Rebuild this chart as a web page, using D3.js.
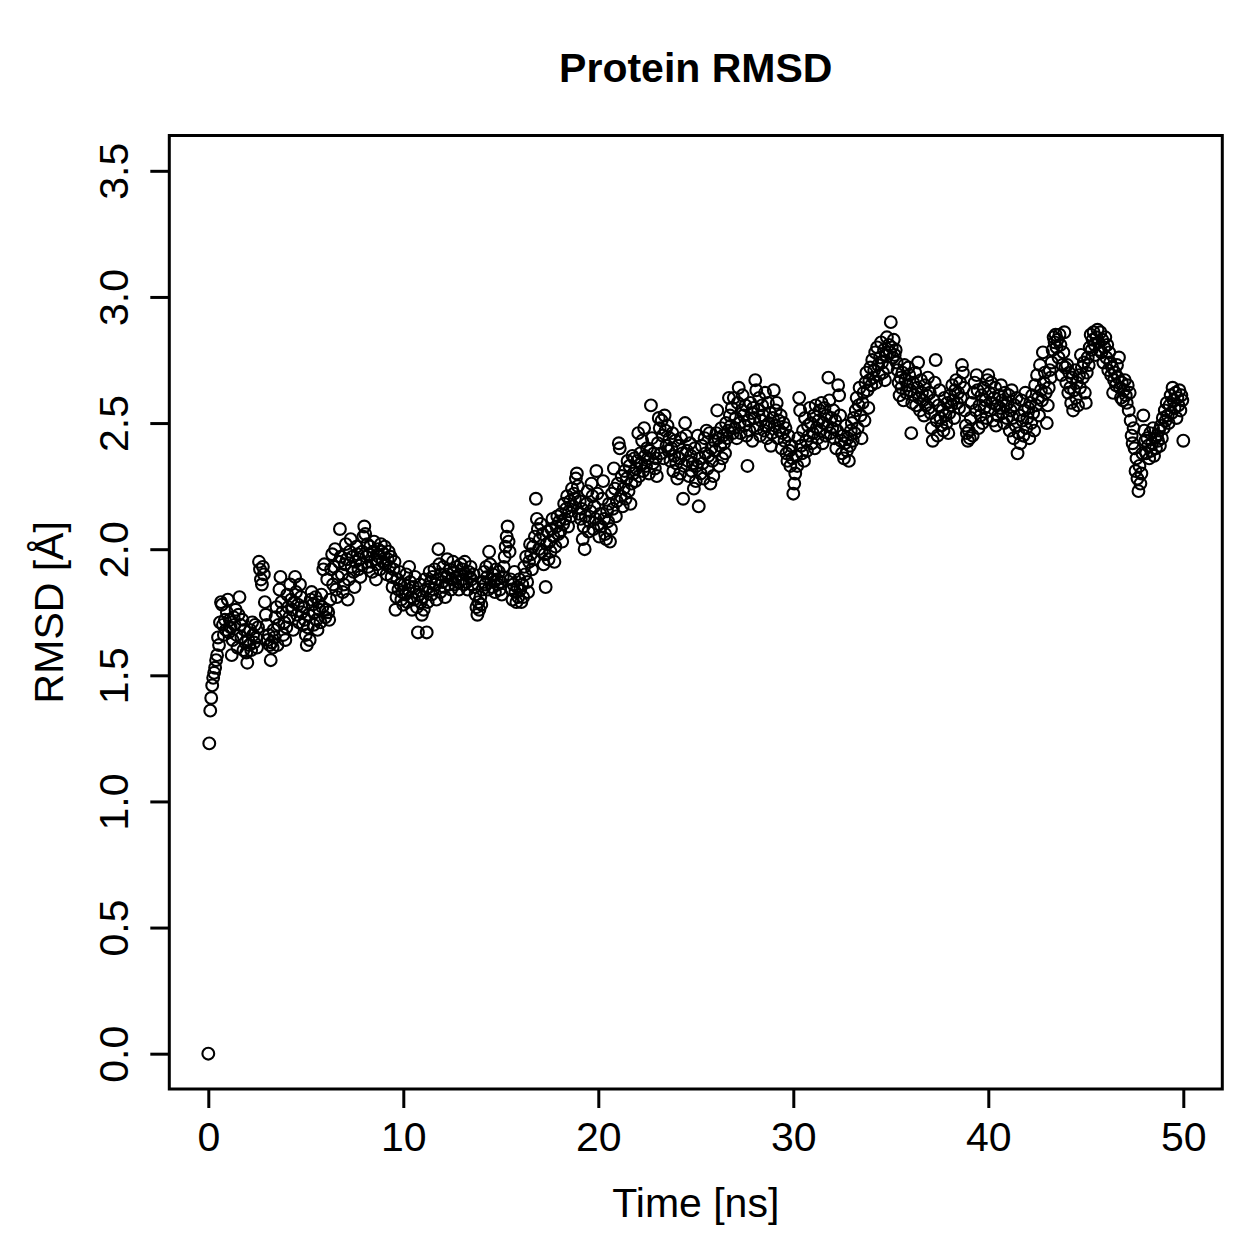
<!DOCTYPE html>
<html lang="en">
<head>
    <meta charset="UTF-8">
    <title>Protein RMSD</title>
    <script src="https://d3js.org/d3.v7.min.js"></script>
    <style>
        body {
            margin: 0;
            background: #ffffff;
        }
        svg text {
            font-family: "Liberation Sans", Arial, Helvetica, sans-serif;
            fill: #000;
        }
        .point {
            fill: none;
            stroke: #000;
            stroke-width: 2.1;
        }
    </style>
</head>
<body>
    <div id="chart"></div>

    <script>
        // trajectory sampled every 0.05 ns, one row per nanosecond
        const frameStep = 0.05;
        const rmsd = [
            0.00, 1.23, 1.36, 1.41, 1.46, 1.49, 1.51, 1.53, 1.56, 1.58, 1.65, 1.62, 1.71, 1.79, 1.78, 1.70, 1.66, 1.72, 1.68, 1.75,
            1.80, 1.67, 1.72, 1.69, 1.58, 1.64, 1.73, 1.70, 1.76, 1.66, 1.61, 1.74, 1.81, 1.70, 1.65, 1.72, 1.60, 1.68, 1.63, 1.59,
            1.55, 1.64, 1.62, 1.68, 1.60, 1.71, 1.66, 1.63, 1.70, 1.65, 1.61, 1.69, 1.95, 1.92, 1.88, 1.86, 1.93, 1.90, 1.79, 1.74,
            1.70, 1.64, 1.66, 1.62, 1.56, 1.63, 1.61, 1.68, 1.65, 1.73, 1.77, 1.62, 1.70, 1.84, 1.89, 1.79, 1.75, 1.66, 1.71, 1.64,
            1.69, 1.82, 1.77, 1.73, 1.86, 1.80, 1.76, 1.68, 1.79, 1.89, 1.83, 1.74, 1.78, 1.71, 1.86, 1.81, 1.75, 1.70, 1.77, 1.72,
            1.66, 1.62, 1.69, 1.74, 1.64, 1.80, 1.83, 1.78, 1.70, 1.75, 1.81, 1.72, 1.68, 1.79, 1.76, 1.71, 1.82, 1.77, 1.92, 1.94,
            1.73, 1.76, 1.88, 1.75, 1.72, 1.80, 1.92, 1.98, 1.86, 1.93, 2.00, 1.84, 1.81, 1.89, 1.95, 2.08, 1.97, 1.90, 1.83, 1.86,
            1.94, 2.02, 1.96, 1.80, 1.88, 1.99, 2.04, 1.93, 1.97, 1.91, 1.85, 1.95, 2.01, 1.98, 1.92, 1.96, 1.89, 1.94, 1.99, 2.05,
            2.09, 2.06, 1.97, 2.02, 1.93, 1.98, 2.01, 1.95, 1.91, 1.99, 2.03, 1.96, 1.88, 1.94, 2.00, 1.97, 1.92, 2.02, 1.99, 1.95,
            1.98, 2.01, 1.94, 1.90, 1.96, 1.99, 1.93, 1.97, 1.89, 1.85, 1.92, 1.95, 1.76, 1.81, 1.88, 1.84, 1.91, 1.86, 1.80, 1.83,
            1.78, 1.86, 1.82, 1.90, 1.79, 1.84, 1.93, 1.87, 1.81, 1.76, 1.85, 1.80, 1.89, 1.83, 1.77, 1.67, 1.82, 1.86, 1.79, 1.74,
            1.81, 1.76, 1.88, 1.84, 1.67, 1.79, 1.85, 1.91, 1.87, 1.82, 1.89, 1.84, 1.92, 1.86, 1.80, 1.88, 2.00, 1.94, 1.83, 1.90,
            1.87, 1.93, 1.85, 1.81, 1.89, 1.96, 1.90, 1.86, 1.92, 1.84, 1.88, 1.95, 1.91, 1.86, 1.89, 1.93, 1.87, 1.84, 1.90, 1.94,
            1.88, 1.92, 1.86, 1.95, 1.90, 1.87, 1.84, 1.91, 1.89, 1.93, 1.88, 1.86, 1.90, 1.85, 1.82, 1.77, 1.74, 1.79, 1.76, 1.81,
            1.78, 1.84, 1.87, 1.91, 1.86, 1.93, 1.89, 1.84, 1.99, 1.94, 1.88, 1.85, 1.90, 1.87, 1.83, 1.92, 1.88, 1.86, 1.91, 1.84,
            1.87, 1.82, 1.89, 1.93, 1.97, 2.01, 2.05, 2.09, 2.03, 1.99, 1.88, 1.84, 1.80, 1.86, 1.91, 1.83, 1.79, 1.85, 1.81, 1.88,
            1.84, 1.79, 1.86, 1.81, 1.93, 1.90, 1.97, 1.87, 1.83, 1.95, 2.02, 1.98, 1.92, 2.01, 1.96, 2.05, 2.20, 2.12, 2.08, 2.00,
            2.04, 2.10, 1.99, 2.06, 1.94, 1.98, 1.85, 2.02, 2.07, 1.96, 2.03, 1.99, 2.08, 2.12, 2.05, 1.95, 2.01, 2.09, 2.13, 2.06,
            2.11, 2.07, 2.14, 2.03, 2.10, 2.18, 2.12, 2.16, 2.21, 2.09, 2.15, 2.19, 2.13, 2.24, 2.17, 2.22, 2.20, 2.28, 2.30, 2.25,
            2.14, 2.19, 2.12, 2.16, 2.04, 2.09, 2.00, 2.13, 2.18, 2.23, 2.07, 2.11, 2.15, 2.26, 2.21, 2.08, 2.17, 2.12, 2.31, 2.22,
            2.10, 2.05, 2.14, 2.09, 2.20, 2.27, 2.12, 2.06, 2.04, 2.15, 2.11, 2.18, 2.03, 2.08, 2.22, 2.16, 2.32, 2.24, 2.13, 2.19,
            2.26, 2.42, 2.40, 2.21, 2.29, 2.17, 2.24, 2.31, 2.20, 2.28, 2.35, 2.23, 2.33, 2.18, 2.26, 2.37, 2.30, 2.36, 2.27, 2.32,
            2.35, 2.46, 2.29, 2.38, 2.34, 2.43, 2.31, 2.48, 2.37, 2.33, 2.40, 2.36, 2.30, 2.39, 2.57, 2.44, 2.34, 2.38, 2.32, 2.36,
            2.29, 2.42, 2.52, 2.48, 2.38, 2.51, 2.45, 2.36, 2.53, 2.47, 2.41, 2.49, 2.39, 2.44, 2.35, 2.40, 2.46, 2.31, 2.37, 2.43,
            2.34, 2.28, 2.41, 2.36, 2.30, 2.44, 2.38, 2.20, 2.33, 2.50, 2.45, 2.39, 2.35, 2.29, 2.42, 2.37, 2.31, 2.34, 2.24, 2.40,
            2.27, 2.33, 2.45, 2.17, 2.36, 2.30, 2.41, 2.34, 2.28, 2.44, 2.38, 2.47, 2.32, 2.37, 2.46, 2.26, 2.40, 2.35, 2.29, 2.43,
            2.39, 2.46, 2.55, 2.44, 2.33, 2.41, 2.48, 2.36, 2.45, 2.42, 2.38, 2.50, 2.44, 2.47, 2.60, 2.53, 2.49, 2.56, 2.46, 2.60,
            2.48, 2.52, 2.44, 2.58, 2.64, 2.50, 2.46, 2.55, 2.61, 2.53, 2.49, 2.57, 2.45, 2.33, 2.51, 2.47, 2.58, 2.54, 2.43, 2.56,
            2.52, 2.67, 2.63, 2.48, 2.55, 2.60, 2.45, 2.51, 2.57, 2.53, 2.47, 2.62, 2.49, 2.44, 2.58, 2.50, 2.54, 2.41, 2.46, 2.52,
            2.63, 2.49, 2.55, 2.58, 2.44, 2.51, 2.47, 2.53, 2.40, 2.46, 2.50, 2.43, 2.48, 2.38, 2.35, 2.45, 2.39, 2.33, 2.41, 2.36,
            2.22, 2.26, 2.30, 2.37, 2.33, 2.44, 2.60, 2.55, 2.41, 2.38, 2.47, 2.35, 2.52, 2.43, 2.39, 2.49, 2.45, 2.56, 2.50, 2.42,
            2.46, 2.53, 2.40, 2.57, 2.48, 2.44, 2.51, 2.55, 2.47, 2.58, 2.42, 2.50, 2.56, 2.45, 2.53, 2.49, 2.68, 2.59, 2.46, 2.52,
            2.48, 2.55, 2.44, 2.51, 2.40, 2.47, 2.65, 2.61, 2.53, 2.43, 2.38, 2.45, 2.36, 2.42, 2.49, 2.39, 2.44, 2.35, 2.41, 2.47,
            2.50, 2.43, 2.52, 2.46, 2.55, 2.60, 2.48, 2.57, 2.64, 2.53, 2.44, 2.58, 2.62, 2.51, 2.66, 2.70, 2.63, 2.56, 2.67, 2.72,
            2.65, 2.75, 2.68, 2.71, 2.78, 2.66, 2.80, 2.73, 2.69, 2.76, 2.82, 2.74, 2.70, 2.79, 2.67, 2.77, 2.84, 2.72, 2.81, 2.78,
            2.90, 2.80, 2.76, 2.83, 2.77, 2.79, 2.74, 2.71, 2.66, 2.61, 2.68, 2.64, 2.70, 2.59, 2.73, 2.67, 2.62, 2.65, 2.72, 2.69,
            2.63, 2.46, 2.58, 2.66, 2.61, 2.70, 2.57, 2.64, 2.74, 2.60, 2.55, 2.67, 2.62, 2.59, 2.53, 2.65, 2.57, 2.61, 2.68, 2.56,
            2.62, 2.54, 2.48, 2.43, 2.59, 2.66, 2.75, 2.51, 2.45, 2.57, 2.63, 2.52, 2.49, 2.55, 2.47, 2.60, 2.53, 2.50, 2.58, 2.46,
            2.54, 2.61, 2.57, 2.65, 2.59, 2.52, 2.63, 2.67, 2.58, 2.62, 2.56, 2.66, 2.60, 2.73, 2.70, 2.64, 2.55, 2.49, 2.46, 2.43,
            2.47, 2.44, 2.52, 2.58, 2.45, 2.62, 2.66, 2.55, 2.69, 2.63, 2.48, 2.57, 2.53, 2.61, 2.50, 2.64, 2.56, 2.59, 2.52, 2.67,
            2.69, 2.62, 2.55, 2.66, 2.58, 2.51, 2.60, 2.64, 2.49, 2.57, 2.53, 2.61, 2.56, 2.65, 2.59, 2.54, 2.50, 2.62, 2.57, 2.52,
            2.58, 2.61, 2.47, 2.55, 2.63, 2.52, 2.44, 2.57, 2.49, 2.60, 2.38, 2.46, 2.53, 2.42, 2.59, 2.51, 2.45, 2.55, 2.62, 2.48,
            2.52, 2.56, 2.44, 2.58, 2.50, 2.61, 2.54, 2.47, 2.65, 2.57, 2.69, 2.60, 2.53, 2.73, 2.63, 2.59, 2.78, 2.66, 2.70, 2.62,
            2.50, 2.57, 2.64, 2.71, 2.68, 2.74, 2.79, 2.84, 2.82, 2.85, 2.80, 2.83, 2.76, 2.85, 2.81, 2.69, 2.73, 2.78, 2.86, 2.72,
            2.66, 2.73, 2.62, 2.70, 2.64, 2.58, 2.68, 2.55, 2.63, 2.71, 2.60, 2.66, 2.57, 2.69, 2.64, 2.77, 2.72, 2.68, 2.74, 2.62,
            2.58, 2.70, 2.76, 2.73, 2.80, 2.85, 2.79, 2.83, 2.86, 2.81, 2.77, 2.84, 2.87, 2.82, 2.79, 2.86, 2.78, 2.83, 2.74, 2.80,
            2.84, 2.76, 2.81, 2.71, 2.78, 2.74, 2.69, 2.72, 2.62, 2.67, 2.70, 2.65, 2.73, 2.68, 2.76, 2.64, 2.60, 2.66, 2.59, 2.63,
            2.67, 2.61, 2.58, 2.65, 2.55, 2.62, 2.51, 2.45, 2.42, 2.48, 2.40, 2.31, 2.36, 2.28, 2.23, 2.33, 2.26, 2.30, 2.38, 2.53,
            2.47, 2.43, 2.38, 2.44, 2.41, 2.36, 2.46, 2.39, 2.42, 2.48, 2.37, 2.44, 2.40, 2.45, 2.43, 2.47, 2.41, 2.49, 2.44, 2.52,
            2.48, 2.55, 2.51, 2.58, 2.53, 2.50, 2.57, 2.61, 2.54, 2.64, 2.59, 2.56, 2.62, 2.52, 2.60, 2.57, 2.63, 2.55, 2.61, 2.59,
            2.43
        ];
        const xTicks = [0, 10, 20, 30, 40, 50];
        const yTicks = [0.0, 0.5, 1.0, 1.5, 2.0, 2.5, 3.0, 3.5];
        const titleText = "Protein RMSD";
        const xLabel = "Time [ns]";
        const yLabel = "RMSD [Å]";

        const data = rmsd.map((v, i) => ({ t: i * frameStep, v: v }));

        const W = 1259, H = 1259;
        const plot = { left: 169.3, right: 1222.3, top: 135.5, bottom: 1089 };
        const fontSize = 41;

        const svg = d3.select("#chart").append("svg")
            .attr("width", W)
            .attr("height", H)
            .style("display", "block");

        svg.append("rect")
            .attr("width", W).attr("height", H)
            .attr("fill", "#fff");

        // R style 4% padding around the ranges 0-50 and 0-3.5
        const x = d3.scaleLinear().domain([-2, 52]).range([plot.left, plot.right]);
        const y = d3.scaleLinear().domain([-0.14, 3.64]).range([plot.bottom, plot.top]);

        // points
        svg.append("g")
            .selectAll("circle")
            .data(data)
            .enter().append("circle")
            .attr("class", "point")
            .attr("cx", d => x(d.t))
            .attr("cy", d => y(d.v))
            .attr("r", 5.9);

        // x axis
        const gx = svg.append("g")
            .attr("transform", `translate(0,${plot.bottom})`)
            .call(d3.axisBottom(x).tickValues(xTicks).tickSize(19).tickFormat(d3.format("d")));
        gx.select(".domain").remove();
        gx.selectAll(".tick line").attr("stroke", "#000").attr("stroke-width", 3);
        gx.selectAll(".tick text")
            .attr("y", 61.5)
            .attr("dy", null)
            .style("font-size", fontSize + "px");

        // y axis, labels rotated like R's default las=0
        const gy = svg.append("g")
            .attr("transform", `translate(${plot.left},0)`)
            .call(d3.axisLeft(y).tickValues(yTicks).tickSize(19).tickFormat(d3.format(".1f")));
        gy.select(".domain").remove();
        gy.selectAll(".tick line").attr("stroke", "#000").attr("stroke-width", 3);
        gy.selectAll(".tick text")
            .attr("x", 0)
            .attr("y", -41.5)
            .attr("dy", null)
            .attr("transform", "rotate(-90)")
            .attr("text-anchor", "middle")
            .style("font-size", fontSize + "px");

        // box
        svg.append("rect")
            .attr("x", plot.left)
            .attr("y", plot.top)
            .attr("width", plot.right - plot.left)
            .attr("height", plot.bottom - plot.top)
            .attr("fill", "none")
            .attr("stroke", "#000")
            .attr("stroke-width", 3);

        const cx = (plot.left + plot.right) / 2;

        svg.append("text")
            .attr("x", cx)
            .attr("y", 82)
            .attr("text-anchor", "middle")
            .style("font-size", fontSize + "px")
            .style("font-weight", "bold")
            .text(titleText);

        svg.append("text")
            .attr("x", cx)
            .attr("y", 1217)
            .attr("text-anchor", "middle")
            .style("font-size", fontSize + "px")
            .text(xLabel);

        svg.append("text")
            .attr("transform", `translate(63,${(plot.top + plot.bottom) / 2}) rotate(-90)`)
            .attr("text-anchor", "middle")
            .style("font-size", fontSize + "px")
            .text(yLabel);
    </script>
</body>
</html>
